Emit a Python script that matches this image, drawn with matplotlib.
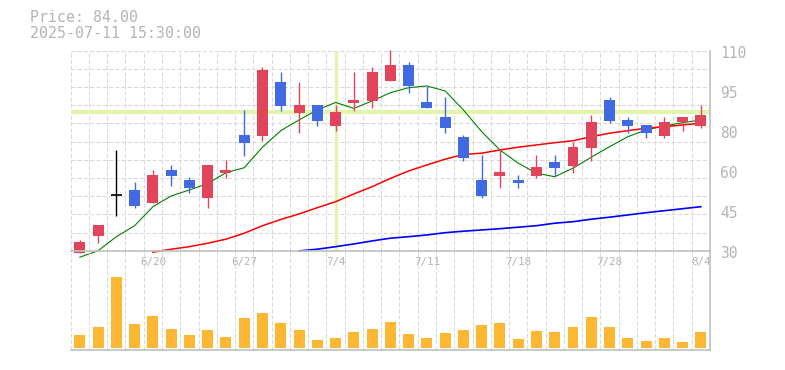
import numpy as np
import matplotlib
matplotlib.use("Agg")
import matplotlib.pyplot as plt
import matplotlib.transforms as mtransforms

# ---------------- data ----------------
opens  = [29.2, 36.0, 52.2, 54.3, 49.1, 62.3, 58.3, 51.1, 61.1, 76.3,
          75.9, 97.5, 85.2, 88.3, 80.0, 89.2, 89.9, 97.9, 104.3, 89.5,
          83.5, 75.5, 58.3, 60.0, 58.3, 60.0, 65.5, 64.0, 71.2, 90.3,
          82.3, 80.3, 76.0, 81.5, 80.0]
closes = [33.5, 40.3, 52.2, 48.0, 60.3, 59.9, 55.1, 64.3, 62.3, 73.1,
          102.3, 88.0, 88.3, 82.0, 85.6, 90.3, 101.5, 104.3, 96.0, 87.2,
          79.2, 67.2, 52.0, 61.5, 57.2, 63.5, 63.2, 71.5, 81.5, 82.0,
          80.0, 77.2, 81.5, 83.5, 84.3]
highs  = [34.3, 40.3, 70.3, 57.4, 62.3, 64.3, 59.6, 64.3, 66.4, 86.3,
          103.5, 101.5, 97.5, 88.3, 88.3, 101.5, 103.5, 110.3, 105.5, 95.9,
          91.5, 76.3, 68.3, 70.6, 60.3, 68.3, 68.3, 73.5, 84.3, 91.5,
          83.5, 80.3, 83.5, 83.5, 88.3]
lows   = [29.2, 33.2, 44.0, 47.2, 49.1, 55.9, 53.1, 47.1, 59.1, 68.0,
          73.9, 86.0, 77.2, 80.0, 78.0, 86.0, 87.2, 97.9, 93.2, 87.2,
          77.2, 66.0, 51.2, 55.2, 55.2, 59.2, 59.9, 61.2, 66.0, 81.2,
          77.2, 75.2, 75.2, 78.0, 79.2]
volumes = [13, 21, 71, 24, 32, 19, 13, 18, 11, 30,
           35, 25, 18, 8, 10, 16, 19, 26, 14, 10,
           15, 18, 23, 25, 9, 17, 16, 21, 31, 21,
           10, 7, 10, 6, 16]
nan = np.nan
ma_green = [27.4, 30.0, 35.6, 40.0, 47.6, 51.9, 54.3, 56.9, 61.2, 63.2,
            71.4, 78.0, 82.3, 86.3, 89.3, 86.9, 89.9, 93.2, 95.2, 95.9,
            93.9, 86.3, 77.6, 70.3, 65.0, 61.0, 59.6, 63.0, 67.4, 71.6,
            75.6, 78.3, 79.9, 81.2, 82.3]
ma_red = [nan, nan, nan, nan, 29.4, 30.6, 31.6, 33.0, 34.6, 37.0,
          40.0, 42.5, 44.7, 47.2, 49.6, 52.7, 55.6, 58.9, 61.9, 64.3,
          66.6, 68.5, 69.0, 70.3, 71.4, 72.3, 73.2, 74.0, 75.6, 77.0,
          78.0, 79.0, 79.6, 80.3, 81.0]
ma_blue = [nan, nan, nan, nan, nan, nan, nan, nan, nan, nan,
           nan, nan, 29.9, 30.6, 31.6, 32.7, 33.9, 35.0, 35.6, 36.3,
           37.2, 37.8, 38.3, 38.8, 39.4, 40.0, 41.0, 41.6, 42.6, 43.4,
           44.3, 45.2, 46.0, 46.8, 47.6]
x_tick_idx = [4, 9, 14, 19, 24, 29, 34]
x_tick_labels = ['6/20', '6/27', '7/4', '7/11', '7/18', '7/28', '8/4']
y_tick_values = [30, 46, 62, 78, 94, 110]
y_tick_labels = ['30', '45', '60', '80', '95', '110']
cross_idx = 14
title_lines = ['Price: 84.00', '2025-07-11 15:30:00']

# ---------------- styles ----------------
RED = '#e2445c'
BLUE = '#4169e1'
VOL = '#fdb833'
GRID = '#d9d9d9'
AXC = '#c0c0c0'
TXT = '#b4b4b4'
CROSS = '#e3f5ad'
FONT = 'DejaVu Sans Mono'

W, H = 785, 370
fig = plt.figure(figsize=(W / 100, H / 100), dpi=100)

L, R = 70.7, 710.0
T1, B1 = 50.7, 250.7
B2 = 350.0
ax = fig.add_axes([L / W, (H - B1) / H, (R - L) / W, (B1 - T1) / H])
axv = fig.add_axes([L / W, (H - B2) / H, (R - L) / W, (B2 - B1) / H])

n = len(opens)
x = np.arange(n)
ymin, ymax = 30, 110

for a in (ax, axv):
    a.set_xlim(-0.5, n - 0.5)
    a.set_xticks([])
    a.set_yticks([])
    for s in ('top', 'left'):
        a.spines[s].set_visible(False)
    for s in ('right', 'bottom'):
        a.spines[s].set_color(AXC)
        a.spines[s].set_linewidth(1.2)
        a.spines[s].set_zorder(6)
    a.patch.set_alpha(0)
    # vertical grid at slot boundaries
    for k in range(n + 1):
        a.axvline(k - 0.5, color=GRID, lw=0.75, ls=(0, (4, 2)), zorder=0.5)

ax.set_ylim(ymin, ymax)
for yv in np.linspace(ymin, ymax, 12):
    ax.axhline(yv, color=GRID, lw=0.75, ls=(0, (4, 2)), zorder=0.5)

# crosshair
ax.axvline(cross_idx, color=CROSS, lw=2.3, zorder=1)
ax.axhline(closes[cross_idx], color=CROSS, lw=3.0, zorder=1)

# moving averages
ax.plot(x, ma_green, color='#008000', lw=0.8, zorder=2, clip_on=False)
ax.plot(x, ma_red, color='#ff0000', lw=1.1, zorder=2, clip_on=False)
ax.plot(x, ma_blue, color='#0000ff', lw=1.2, zorder=2, clip_on=False)

# candles
bw = 0.6
for i in range(n):
    o, c, h, l = opens[i], closes[i], highs[i], lows[i]
    if c > o:
        col = RED
    elif c < o:
        col = BLUE
    else:
        col = 'black'
    ax.vlines(i, l, h, color=col, lw=1.0, zorder=3, clip_on=False)
    if c == o:
        ax.hlines(o, i - bw / 2, i + bw / 2, color=col, lw=1.2, zorder=3, clip_on=False)
    else:
        ax.bar(i, abs(c - o), bottom=min(o, c), width=bw, color=col,
               linewidth=0, zorder=4, clip_on=False)

# y tick labels (right)
pix = (ymax - ymin) / (B1 - T1)
tr = mtransforms.blended_transform_factory(ax.transAxes, ax.transData)
for v, lab in zip(y_tick_values, y_tick_labels):
    ax.text((720 - L) / (R - L), v - 2.5 * pix, lab, transform=tr, ha='left',
            va='center', fontsize=10.5, color=TXT, family=FONT, clip_on=False)

# volume
axv.set_ylim(-2, (B2 - B1) - 2)
axv.bar(x, volumes, width=bw, color=VOL, linewidth=0, zorder=3)

trv = mtransforms.blended_transform_factory(axv.transData, axv.transAxes)
for i, lab in zip(x_tick_idx, x_tick_labels):
    axv.text(i, 1 - (262.5 - B1) / (B2 - B1), lab, transform=trv, ha='center',
             va='center', fontsize=7.8, color=TXT, family=FONT)

# header text
fig.text(30 / W, 1 - 18 / H, title_lines[0], ha='left', va='center',
         fontsize=10.7, color=TXT, family=FONT)
fig.text(30 / W, 1 - 33.3 / H, title_lines[1], ha='left', va='center',
         fontsize=10.7, color=TXT, family=FONT)

fig.savefig('out.png', dpi=100)
